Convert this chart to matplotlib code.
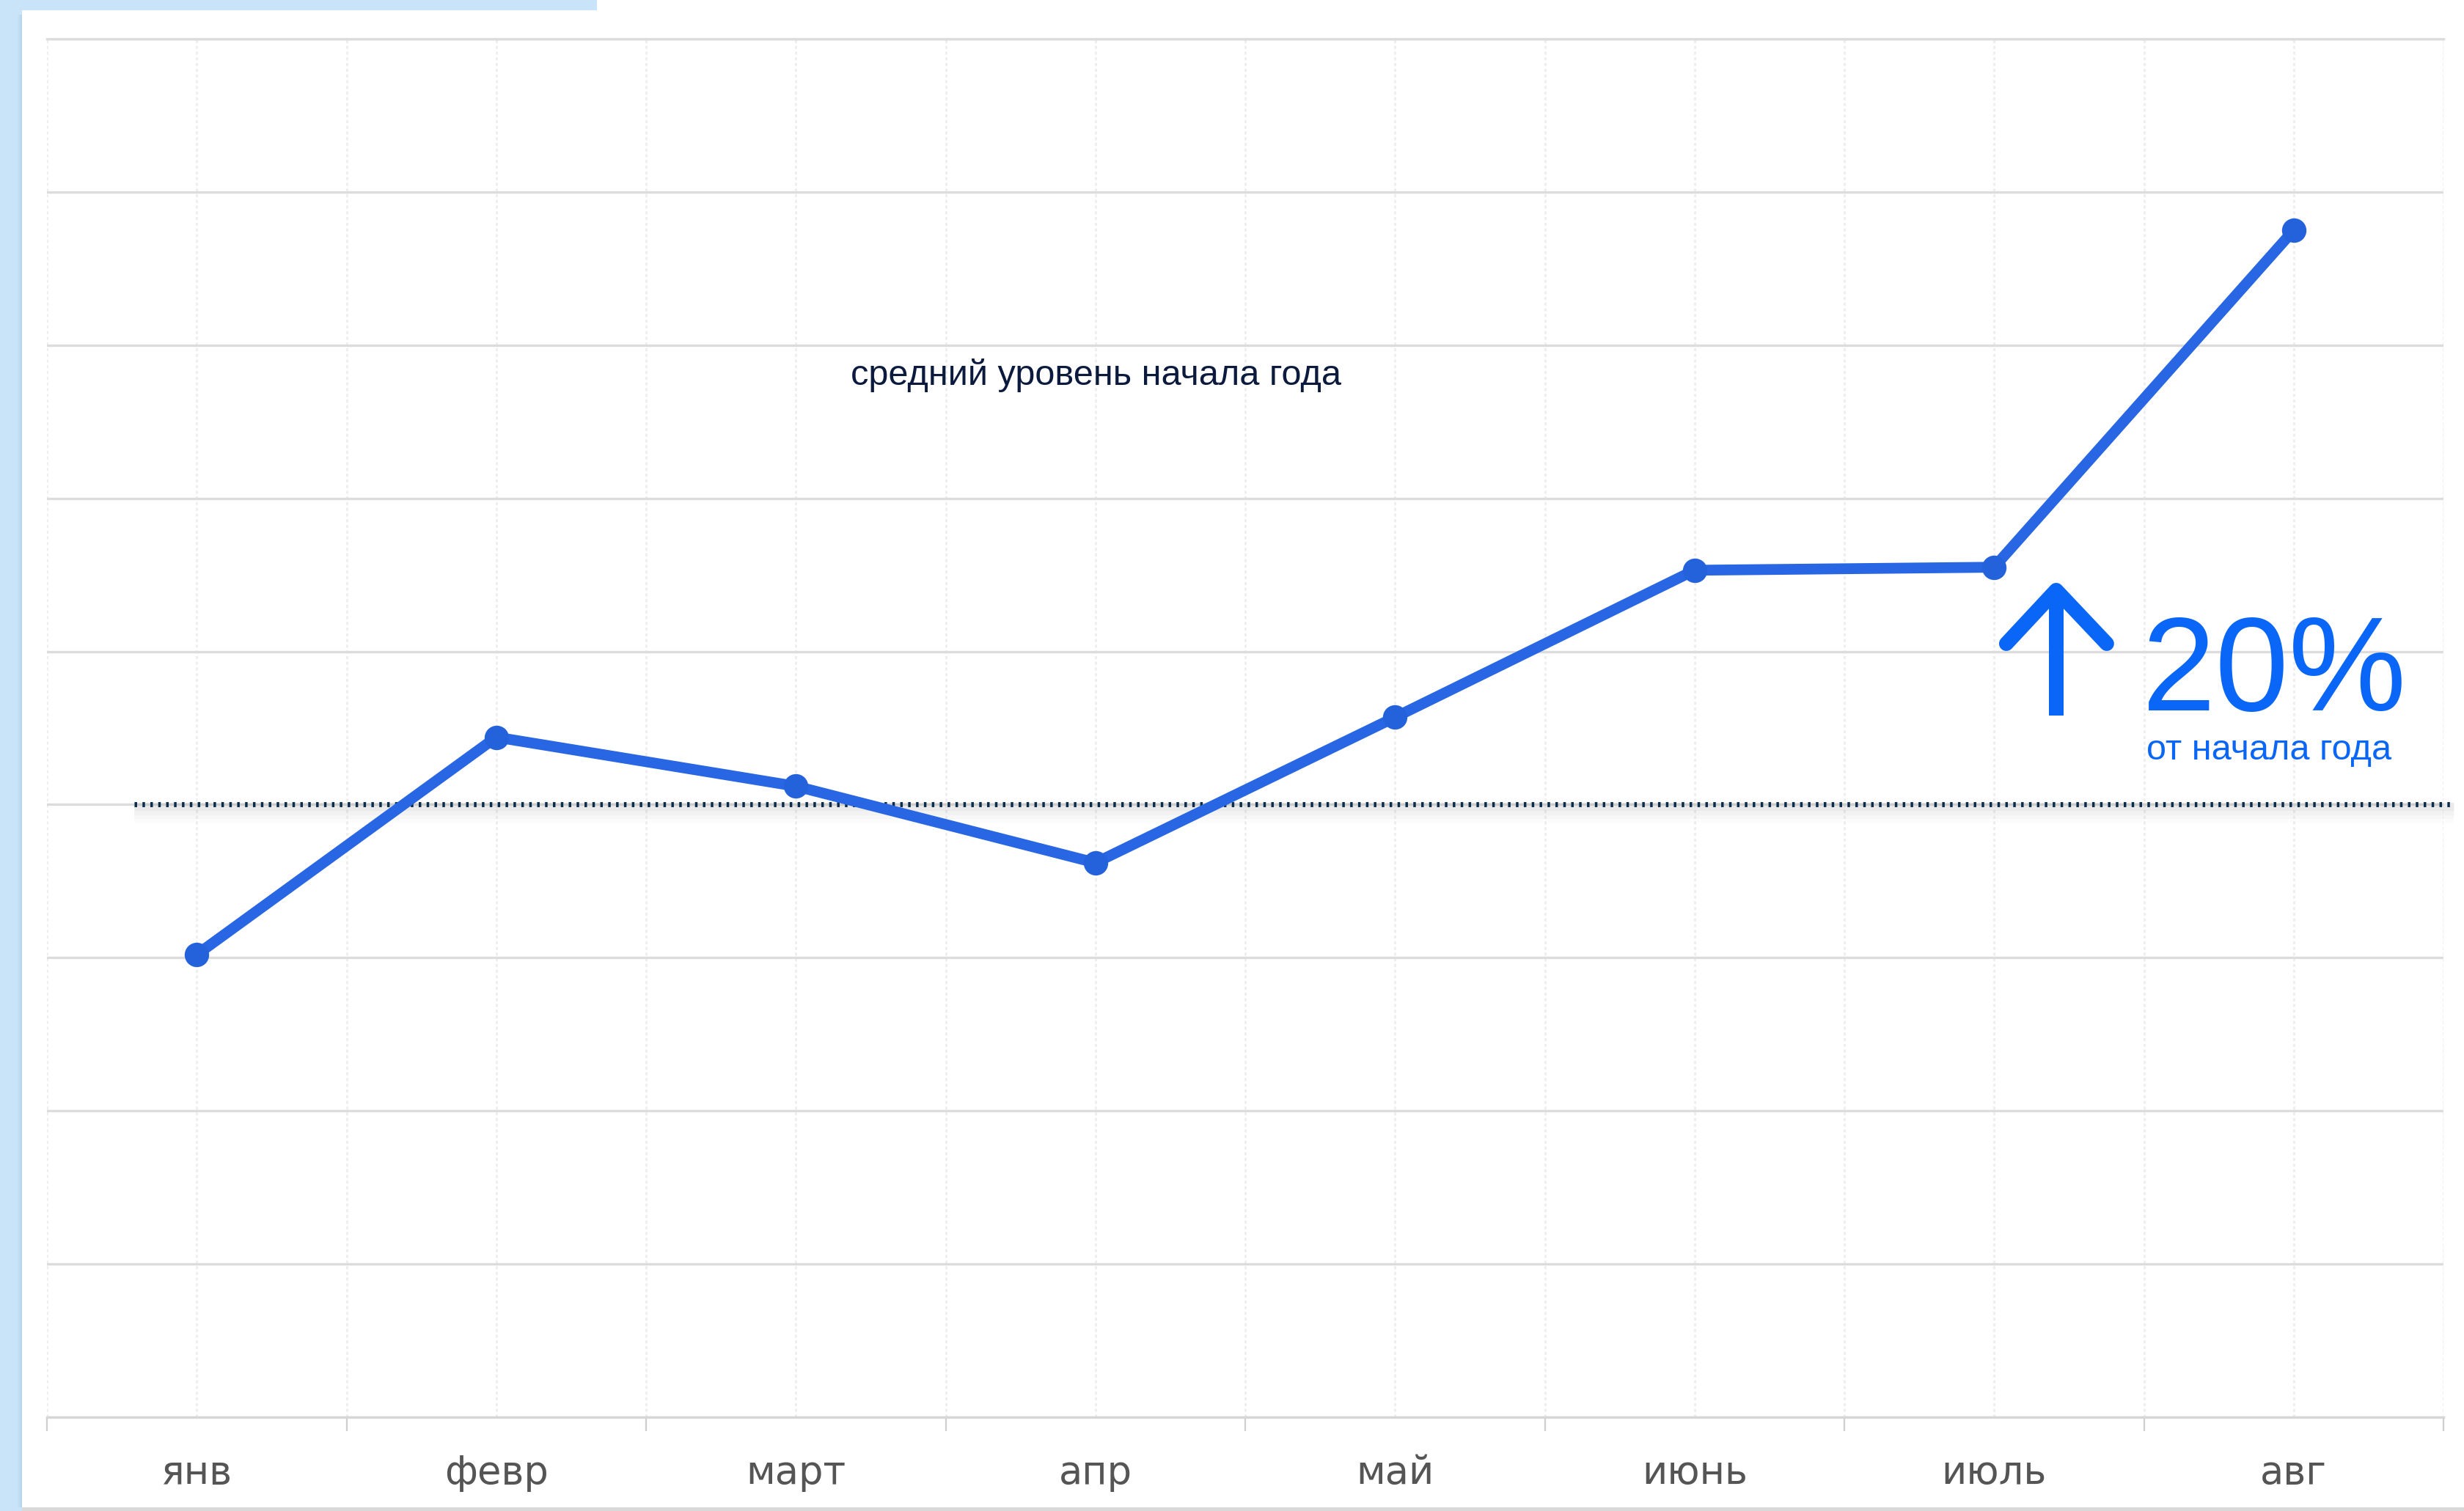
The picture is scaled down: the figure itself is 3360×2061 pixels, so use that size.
import matplotlib
matplotlib.use('Agg')
import matplotlib.pyplot as plt
from matplotlib.patches import Rectangle
from matplotlib.lines import Line2D
import matplotlib.transforms as mtransforms

# ---------------- data ----------------
months = ['янв', 'февр', 'март', 'апр', 'май', 'июнь', 'июль', 'авг']
values = [30.2, 44.4, 41.2, 36.2, 45.7, 55.3, 55.5, 77.5]
avg_level = 40
y_ticks = [0, 10, 20, 30, 40, 50, 60, 70, 80, 90]
avg_caption = 'средний уровень начала года'
growth_label = '20%'
growth_caption = 'от начала года'

# ---------------- figure ----------------
W, H = 3360, 2061
DPI = 200
fig = plt.figure(figsize=(W / DPI, H / DPI), dpi=DPI, facecolor='#c9e4f9')

def fx(px):
    return px / W

def fy(py):
    return 1 - py / H

TEXT_FAMILY = ['Liberation Sans', 'DejaVu Sans']

# white panel with blue strips at left / top-left
fig.patches.append(Rectangle((fx(30), fy(2056)), 1 - fx(30), fy(14) - fy(2056),
                             transform=fig.transFigure, facecolor='white',
                             edgecolor='none', zorder=-10))
fig.patches.append(Rectangle((fx(814), fy(14)), 1 - fx(814), 1 - fy(14),
                             transform=fig.transFigure, facecolor='white',
                             edgecolor='none', zorder=-10))
# bottom border of panel
fig.patches.append(Rectangle((fx(30), 0), 1 - fx(30), fy(2056),
                             transform=fig.transFigure, facecolor='#d9d9d9',
                             edgecolor='none', zorder=-10))
# soft shadow at the panel's left edge
for i, a in enumerate([0.05, 0.08, 0.12, 0.16, 0.2, 0.24]):
    fig.patches.append(Rectangle((fx(24 + i), fy(2056)), fx(1), fy(20) - fy(2056),
                                 transform=fig.transFigure, facecolor='#7fa6c8',
                                 alpha=a, edgecolor='none', zorder=-10))

# ---------------- axes ----------------
ax = fig.add_axes([fx(64), fy(1933), fx(3332) - fx(64), fy(53) - fy(1933)])
ax.set_zorder(5)
ax.set_facecolor('none')
ax.set_xlim(-0.5, len(months) - 0.5)
ax.set_ylim(y_ticks[0], y_ticks[-1])

x = list(range(len(months)))
ax.plot(x, values, color='#2866e3', lw=5.3, marker='o', ms=11,
        mfc='#2462dc', mec='#2462dc', solid_capstyle='round',
        solid_joinstyle='round', zorder=6)

# reference level (dotted) with soft shadow
ytrans = ax.get_yaxis_transform()
x_span = [0.0365, 1.0043]
for off, lw, a in [(3, 4, 0.07), (6, 6, 0.05), (9, 8, 0.035), (12, 10, 0.02)]:
    t = mtransforms.offset_copy(ytrans, fig=fig, x=0, y=-off, units='dots')
    ax.plot(x_span, [avg_level, avg_level], transform=t, color='#8a8a8a',
            lw=lw, alpha=a, solid_capstyle='butt', clip_on=False, zorder=3)
ax.plot(x_span, [avg_level, avg_level], transform=ytrans, color='#0b2d4c',
        lw=2.5, linestyle=(0, (0.5, 1.05)), dash_capstyle='butt',
        clip_on=False, zorder=4)

# ticks / grid
ax.set_xticks(x)
ax.set_xticklabels(months)
ax.tick_params(axis='x', which='major', length=0, pad=18, labelsize=19,
               labelcolor='#555555')
ax.set_xticks([i - 0.5 for i in range(len(months) + 1)], minor=True)
ax.tick_params(axis='x', which='minor', length=6.8, width=0.8,
               color='#cfcfcf', direction='out')
ax.set_yticks(y_ticks)
ax.tick_params(axis='y', length=0, labelleft=False)
ax.grid(axis='y', color='#dcdcdc', lw=1.2)
ax.grid(axis='x', which='both', color='#eeeeee', lw=1.0,
        linestyle=(0, (1.5, 1.3)))
ax.set_axisbelow(True)
for s in ['left', 'right']:
    ax.spines[s].set_visible(False)
ax.spines['bottom'].set_color('#d6d6d6')
ax.spines['bottom'].set_linewidth(1.2)
ax.spines['top'].set_color('#dcdcdc')
ax.spines['top'].set_linewidth(1.2)

# ---------------- annotations ----------------
ax.text(0.3354, 0.749, avg_caption, transform=ax.transAxes, fontsize=17.5,
        color='#0b1a3d', family=TEXT_FAMILY, ha='left', va='baseline')
ax.text(0.8742, 0.5128, growth_label, transform=ax.transAxes, fontsize=65,
        color='#0a66f7', family=TEXT_FAMILY, ha='left', va='baseline')
ax.text(0.8761, 0.4770, growth_caption, transform=ax.transAxes, fontsize=17.5,
        color='#0a66f7', family=TEXT_FAMILY, ha='left', va='baseline')

# up arrow
ax.add_line(Line2D([0.8176, 0.8384, 0.8595], [0.5612, 0.6000, 0.5612],
                   transform=ax.transAxes, color='#0a66f7', lw=7.2,
                   solid_capstyle='round', solid_joinstyle='round',
                   clip_on=False, zorder=7))
ax.add_line(Line2D([0.8384, 0.8384], [0.596, 0.5090],
                   transform=ax.transAxes, color='#0a66f7', lw=7.2,
                   solid_capstyle='butt', clip_on=False, zorder=7))

fig.savefig('out.png', dpi=DPI, facecolor=fig.get_facecolor())
